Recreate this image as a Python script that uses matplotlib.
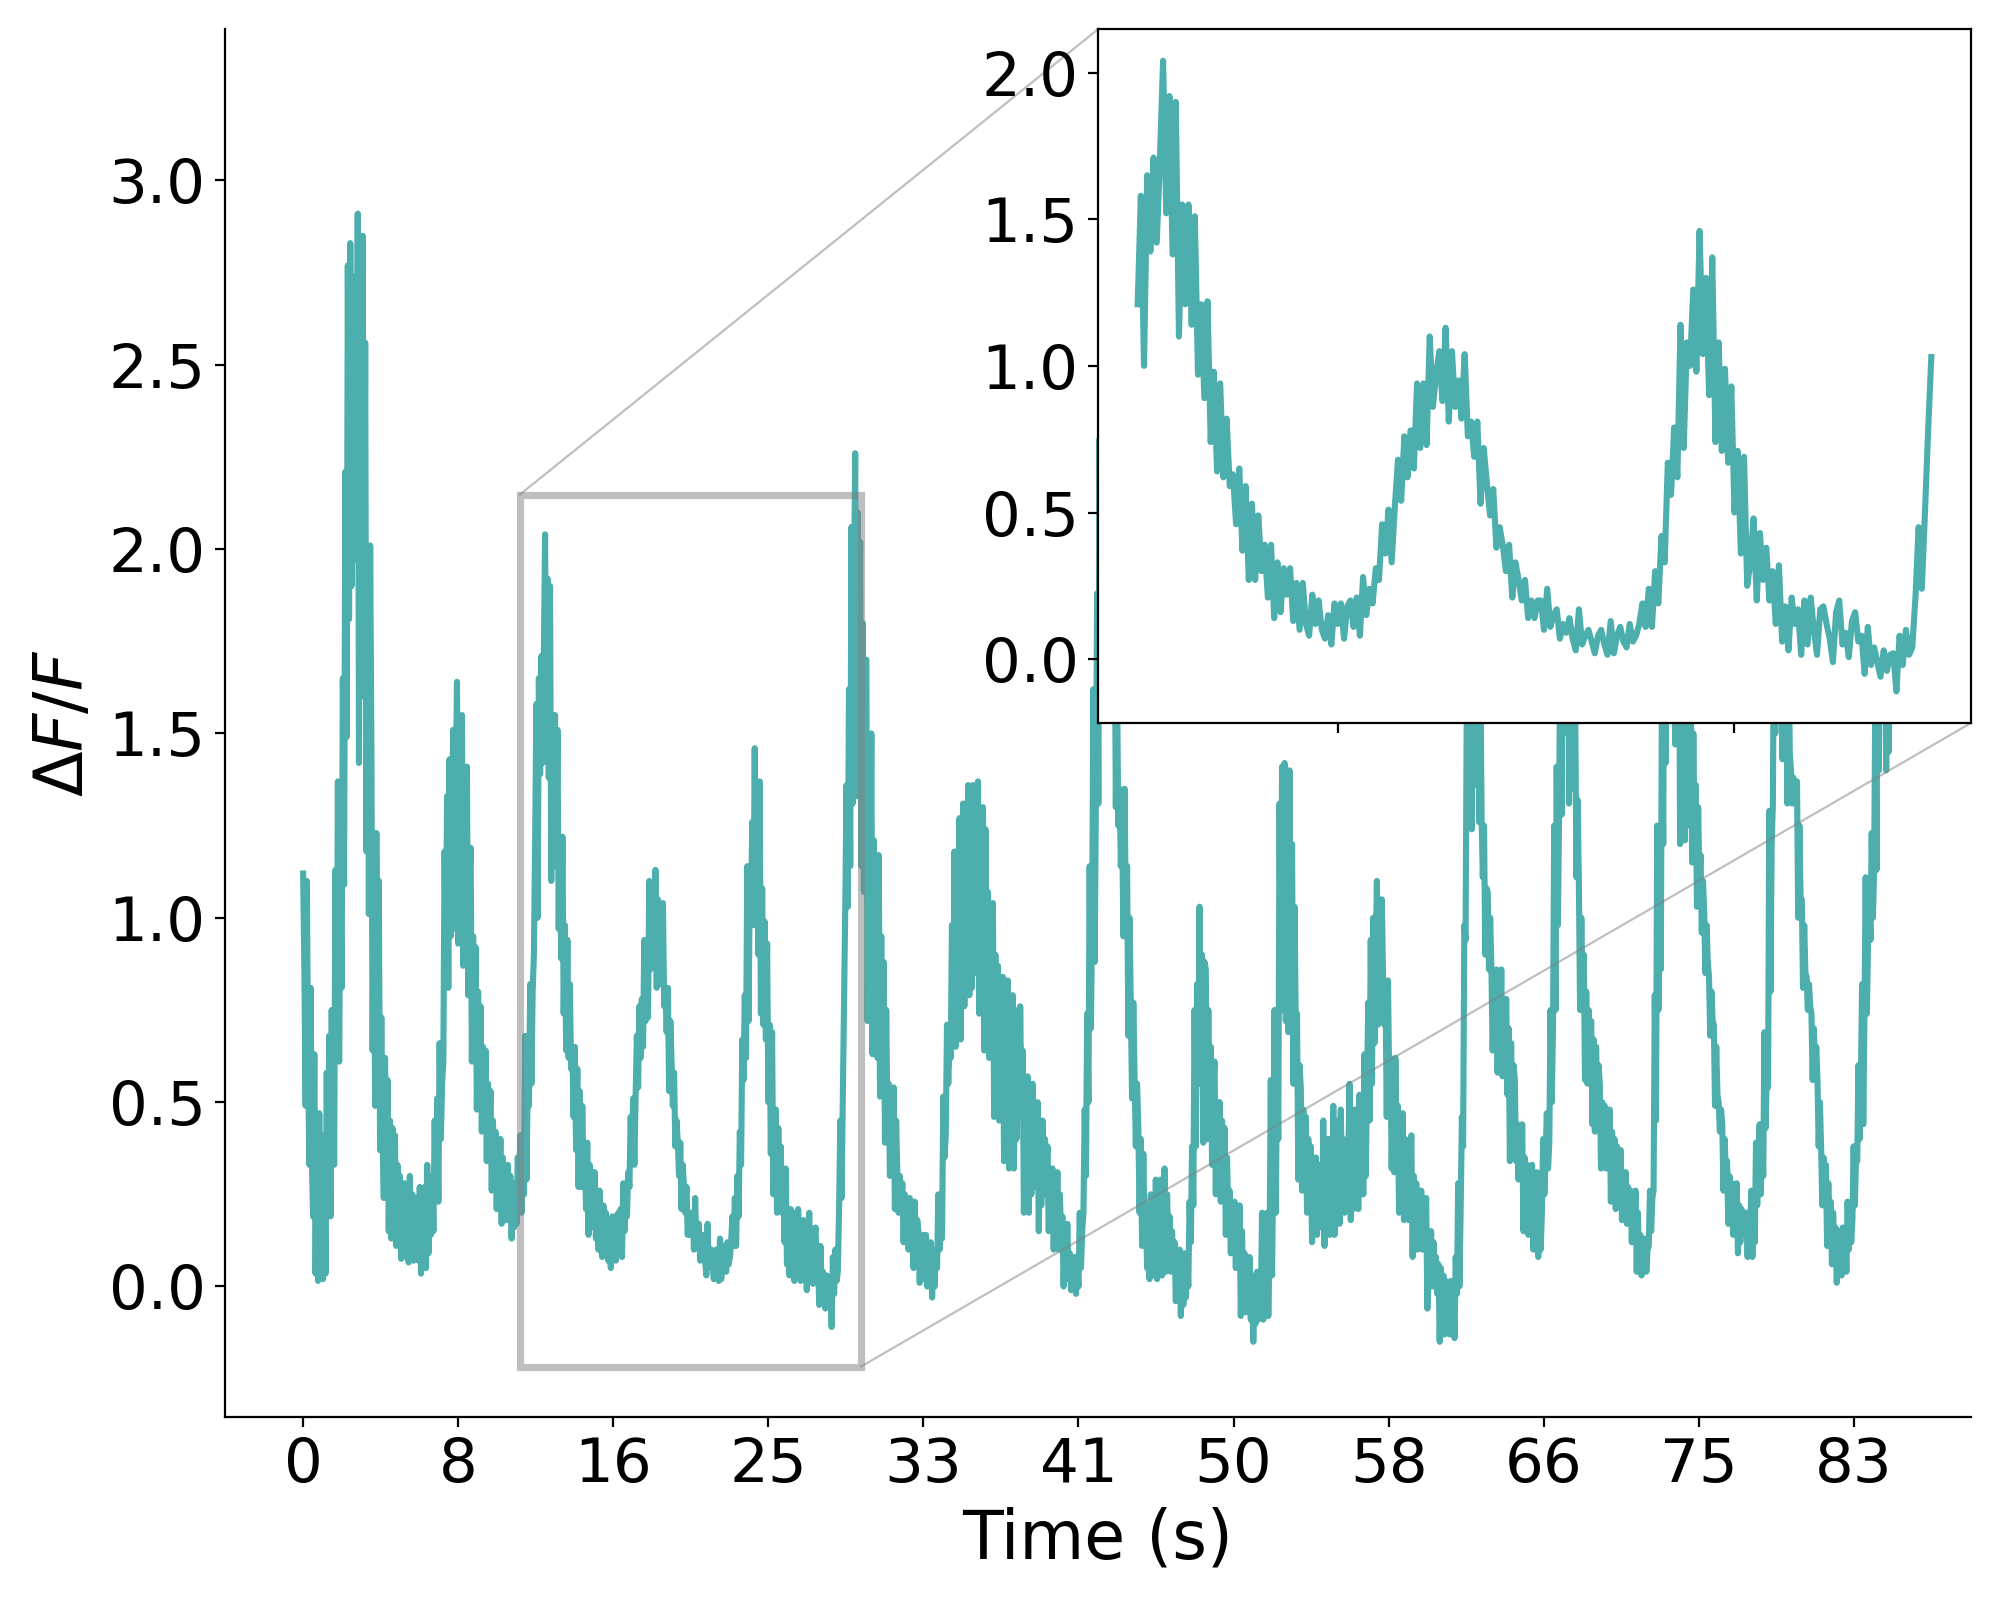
import numpy as np
import matplotlib
matplotlib.use("Agg")
import matplotlib.pyplot as plt

# ---------------- data (ΔF/F trace, ~15 samples per second) ----------------
# segment boundaries in seconds (start of each segment, last = end of recording)
seg_bounds = [0.0, 12.467, 29.2, 42.8, 57.24, 71.6, 85.33]

seg_a = [
    1.12, 0.85, 0.49, 1.10, 0.60, 0.33, 0.81, 0.35, 0.19, 0.63,
    0.035, 0.40, 0.015, 0.47, 0.10, 0.30, 0.02, 0.41, 0.035, 0.58,
    0.20, 0.68, 0.19, 0.75, 0.45, 0.33, 1.13, 0.62, 1.37, 0.61,
    1.10, 0.81, 1.65, 1.09, 2.21, 1.49, 2.77, 1.81, 2.83, 1.90,
    2.60, 1.97, 2.74, 2.00, 2.91, 1.42, 2.50, 1.80, 2.85, 1.60,
    2.56, 1.18, 2.00, 1.01, 2.01, 1.47, 0.64, 1.20, 0.49, 1.23,
    0.70, 1.10, 0.37, 0.73, 0.40, 0.24, 0.62, 0.30, 0.56, 0.15,
    0.45, 0.13, 0.43, 0.20, 0.41, 0.11, 0.33, 0.15, 0.30, 0.075,
    0.25, 0.12, 0.28, 0.08, 0.22, 0.065, 0.30, 0.10, 0.25, 0.07,
    0.24, 0.12, 0.20, 0.07, 0.27, 0.035, 0.20, 0.10, 0.27, 0.05,
    0.33, 0.09, 0.25, 0.14, 0.30, 0.15, 0.45, 0.25, 0.51, 0.23,
    0.66, 0.40, 0.55, 0.61, 1.18, 0.85, 1.33, 0.81, 1.43, 0.95,
    1.30, 1.51, 0.97, 1.35, 1.64, 0.93, 1.45, 1.00, 1.55, 0.87,
    1.30, 0.95, 1.41, 0.79, 1.10, 1.19, 0.61, 0.95, 0.70, 0.92,
    0.48, 0.80, 0.55, 0.76, 0.42, 0.65, 0.45, 0.64, 0.34, 0.55,
    0.40, 0.53, 0.26, 0.45, 0.30, 0.42, 0.21, 0.35, 0.25, 0.40,
    0.17, 0.35, 0.22, 0.30, 0.18, 0.33, 0.20, 0.30, 0.13, 0.25,
    0.16, 0.28, 0.17, 0.35, 0.22, 0.41, 0.20, 0.30, 0.25, 0.68,
    0.29, 0.55, 0.49, 0.82, 0.55, 0.80, 0.90,
]

# zoomed segment (shown in the inset)
seg_b = [
    1.21, 1.58, 1.00, 1.65, 1.39, 1.71, 1.42, 1.70, 2.04, 1.52,
    1.92, 1.38, 1.90, 1.10, 1.55, 1.21, 1.55, 1.14, 1.51, 0.97,
    1.21, 0.89, 1.22, 0.74, 0.98, 0.64, 0.94, 0.62, 0.82, 0.59,
    0.63, 0.46, 0.65, 0.37, 0.59, 0.27, 0.53, 0.27, 0.49, 0.30,
    0.39, 0.21, 0.39, 0.14, 0.33, 0.16, 0.31, 0.22, 0.31, 0.13,
    0.26, 0.10, 0.26, 0.12, 0.08, 0.22, 0.12, 0.20, 0.10, 0.07,
    0.15, 0.05, 0.19, 0.12, 0.19, 0.07, 0.18, 0.20, 0.11, 0.21,
    0.08, 0.28, 0.15, 0.24, 0.19, 0.31, 0.27, 0.46, 0.36, 0.51,
    0.33, 0.52, 0.68, 0.54, 0.76, 0.62, 0.78, 0.65, 0.94, 0.72,
    0.94, 0.73, 1.10, 0.86, 0.97, 1.05, 0.88, 1.13, 0.81, 1.05,
    0.86, 0.95, 0.82, 1.04, 0.76, 0.81, 0.69, 0.81, 0.53, 0.72,
    0.60, 0.49, 0.58, 0.38, 0.45, 0.39, 0.30, 0.39, 0.21, 0.33,
    0.27, 0.20, 0.27, 0.14, 0.20, 0.14, 0.20, 0.20, 0.10, 0.24,
    0.11, 0.15, 0.17, 0.07, 0.12, 0.09, 0.14, 0.07, 0.03, 0.17,
    0.05, 0.08, 0.10, 0.06, 0.02, 0.08, 0.10, 0.05, 0.015, 0.13,
    0.02, 0.08, 0.11, 0.06, 0.04, 0.12, 0.06, 0.08, 0.12, 0.19,
    0.11, 0.24, 0.11, 0.30, 0.19, 0.42, 0.33, 0.67, 0.56, 0.79,
    0.62, 1.14, 0.72, 1.08, 1.00, 1.26, 0.98, 1.46, 1.04, 1.30,
    0.90, 1.37, 0.74, 1.08, 0.71, 0.99, 0.67, 0.93, 0.50, 0.71,
    0.36, 0.69, 0.25, 0.33, 0.48, 0.20, 0.43, 0.27, 0.38, 0.20,
    0.30, 0.12, 0.32, 0.06, 0.18, 0.03, 0.21, 0.12, 0.17, 0.015,
    0.20, 0.05, 0.21, 0.10, 0.015, 0.17, 0.18, 0.12, 0.07, -0.01,
    0.16, 0.20, 0.05, 0.09, 0.007, 0.13, 0.16, 0.06, 0.08, -0.05,
    0.11, -0.02, 0.04, -0.01, -0.06, 0.03, -0.04, 0.015, 0.02, -0.11,
    0.08, -0.02, 0.10, 0.015, 0.04, 0.21, 0.45, 0.24, 0.50, 0.78,
    1.03,
]

seg_c = [
    1.36, 1.03, 1.62, 1.14, 2.06, 1.31, 1.87, 2.26,
    1.33, 2.10, 1.50, 2.02, 1.14, 1.80, 1.07, 1.69,
    1.70, 0.72, 1.40, 0.90, 1.50, 0.63, 1.21, 0.70,
    1.17, 0.62, 1.17, 0.515, 0.95, 0.60, 0.88, 0.39,
    0.75, 0.45, 0.55, 0.30, 0.50, 0.35, 0.54, 0.21,
    0.45, 0.30, 0.20, 0.30, 0.22, 0.28, 0.12, 0.25,
    0.15, 0.22, 0.10, 0.24, 0.12, 0.20, 0.05, 0.23,
    0.08, 0.18, 0.15, 0.01, 0.12, 0.04, 0.14, 0.02,
    0.14, 0.00, 0.10, 0.03, 0.12, -0.03, 0.08, 0.00, 0.10,
    0.05, 0.25, 0.10, 0.20, 0.13, 0.515, 0.35,
    0.41, 0.71, 0.55, 0.65, 0.62, 0.98, 0.70,
    1.18, 0.65, 1.05, 0.75, 1.27, 0.67, 1.10,
    1.31, 0.76, 1.20, 0.85, 1.36, 0.79, 1.25,
    0.81, 1.36, 0.95, 1.30, 0.85,
    1.37, 0.74, 1.20, 0.80, 1.30, 0.64, 1.24, 0.75,
    1.07, 0.62, 0.95, 0.70, 1.04, 0.46, 0.90, 0.55,
    0.87, 0.45, 0.80, 0.55, 0.84, 0.34, 0.75, 0.45,
    0.83, 0.32, 0.70, 0.40, 0.79, 0.32, 0.65, 0.40, 0.75,
    0.46, 0.76, 0.50, 0.64, 0.20, 0.55, 0.30,
    0.57, 0.20, 0.45, 0.25, 0.55, 0.27, 0.48, 0.32,
    0.50, 0.15, 0.40, 0.22, 0.45, 0.25, 0.40, 0.28,
    0.38, 0.15, 0.32, 0.20, 0.32, 0.10, 0.28, 0.15,
    0.31, 0.10, 0.25, 0.13, 0.19, 0.00, 0.15, 0.05, 0.17, 0.02,
    0.09, -0.01, 0.07, 0.00, 0.08, -0.02, 0.06, 0.00,
    0.20, 0.05, 0.15, 0.20, 0.48, 0.30, 0.74, 0.50,
    1.14, 0.70, 1.00, 1.62, 0.88, 1.30, 1.88, 1.31,
]

seg_d = [
    2.30, 1.60, 2.80, 2.10, 3.24, 2.30, 2.90, 2.00, 2.60, 1.80, 2.30, 1.60,
    1.90, 1.30, 1.62, 1.25,
    1.35, 1.14, 1.30, 0.95, 1.35, 1.00,
    1.14, 0.68, 1.00, 0.75, 0.51, 0.77,
    0.57, 0.38, 0.55, 0.43, 0.20, 0.40,
    0.11, 0.36, 0.15, 0.22, 0.05, 0.20,
    0.02, 0.25, 0.05, 0.22, 0.03,
    0.29, 0.02, 0.25, 0.06, 0.29, 0.03, 0.20,
    0.32, 0.04, 0.25, 0.10, 0.19, 0.04, 0.15, 0.05,
    0.12, -0.04, 0.08, 0.00, 0.10, -0.08, 0.05, -0.05,
    0.09, -0.03, 0.06, 0.00, 0.23, 0.12, 0.38, 0.22,
    0.75, 0.38, 0.82, 0.55, 1.03, 0.55, 0.90,
    0.39, 0.88, 0.86, 0.40, 0.75, 0.50,
    0.65, 0.33, 0.55, 0.61, 0.25, 0.50, 0.30,
    0.50, 0.23, 0.45, 0.28, 0.43, 0.14, 0.35, 0.18,
    0.26, 0.09, 0.22, 0.12, 0.23, 0.05, 0.20, 0.08,
    0.22, -0.08, 0.15, -0.02, 0.09, -0.07, 0.05, -0.03,
    0.08, -0.09, 0.03, -0.15, 0.03, -0.10,
    0.04, -0.09, 0.02, -0.05, 0.20, -0.09, 0.12,
    -0.05, 0.20, -0.08, 0.10, 0.56, 0.03, 0.35,
    0.75, 0.20, 0.60, 0.40, 1.31,
    0.75, 1.41, 0.90, 1.42, 0.72, 1.30,
    0.69, 1.40, 0.80, 1.20, 0.55, 1.03, 0.70,
    0.74, 0.29, 0.60, 0.54, 0.26, 0.48, 0.30,
    0.46, 0.20, 0.40, 0.25, 0.38, 0.12, 0.33, 0.18, 0.35,
    0.14, 0.33, 0.18, 0.30, 0.16, 0.45, 0.11, 0.35, 0.20,
    0.40, 0.14, 0.35, 0.18, 0.49, 0.14, 0.40, 0.20, 0.45,
    0.17, 0.48, 0.25, 0.40, 0.20, 0.38, 0.22, 0.35,
    0.55, 0.18, 0.45, 0.21, 0.48, 0.25, 0.42,
    0.21, 0.52, 0.25, 0.45, 0.25, 0.63, 0.30, 0.55,
]

seg_e = [
    0.77, 0.45, 0.94, 0.55, 1.00, 0.66, 0.90, 1.10, 0.71, 1.00,
    0.75, 1.05, 0.84, 0.71, 0.80, 0.46, 0.83, 0.55, 0.62, 0.32,
    0.55, 0.31, 0.62, 0.40, 0.49, 0.20, 0.45, 0.25, 0.47, 0.18,
    0.40, 0.22, 0.39, 0.18, 0.35, 0.41, 0.08, 0.30, 0.15, 0.28,
    0.10, 0.25, 0.12, 0.26, 0.10, 0.22, 0.13, 0.24, -0.06, 0.15,
    0.00, 0.15, 0.00, 0.12, 0.03, 0.08, -0.02, 0.06, -0.15, 0.05,
    -0.10, 0.03, -0.13, 0.015, -0.08, 0.00, -0.13, 0.015, -0.05, 0.01,
    -0.14, 0.08, -0.02, 0.28, 0.00, 0.20, 0.46, 0.38, 0.98, 0.94,
    1.60, 2.00, 1.35, 2.30, 1.24, 2.10, 1.36, 2.20, 1.70, 2.00,
    1.26, 1.70, 1.28, 1.11, 1.25, 0.90, 1.08, 1.07, 0.86, 1.00,
    0.86, 0.64, 0.80, 0.66, 0.86, 0.58, 0.80, 0.62, 0.86, 0.57,
    0.78, 0.60, 0.78, 0.52, 0.70, 0.34, 0.66, 0.40, 0.60, 0.56,
    0.34, 0.44, 0.29, 0.42, 0.30, 0.44, 0.15, 0.35, 0.20, 0.33,
    0.14, 0.28, 0.16, 0.33, 0.10, 0.25, 0.13, 0.31, 0.08, 0.25,
    0.10, 0.20, 0.40, 0.25, 0.35, 0.47, 0.32, 0.39, 0.75, 0.50,
    0.70, 1.25, 0.75, 1.41, 0.98, 1.30, 1.80, 1.28, 2.00, 1.50,
    2.30, 1.60, 2.10, 1.31, 1.90, 1.55, 1.70, 1.35, 1.60, 1.11,
    1.32, 1.10, 0.75, 1.00, 0.80, 0.90, 0.56, 0.80, 0.55, 0.75,
    0.58, 0.72, 0.44, 0.67, 0.42, 0.65, 0.48, 0.60, 0.55, 0.32,
    0.50, 0.36, 0.49, 0.32, 0.45, 0.35, 0.48, 0.23, 0.42, 0.28,
    0.40, 0.21, 0.38, 0.25, 0.33, 0.37, 0.18, 0.30, 0.20, 0.31,
    0.17, 0.27, 0.19, 0.26, 0.12, 0.22, 0.14,
]

seg_f = [
    0.26, 0.04, 0.20, 0.06,
    0.14, 0.03, 0.12, 0.05, 0.13, 0.04, 0.10,
    0.11, 0.26, 0.15, 0.24,
    0.26, 0.79, 0.45,
    1.25, 0.75, 1.10,
    0.86, 1.70, 1.20,
    2.00, 1.42, 2.30, 1.70,
    2.50, 1.90, 2.60, 2.00, 2.40,
    1.47, 2.20, 1.60, 2.00,
    1.20, 1.90, 1.35, 1.70,
    1.21, 1.75, 1.30, 1.60, 1.25,
    1.55, 1.15, 1.50, 1.20,
    1.36, 1.03, 1.30, 1.10,
    1.17, 0.96, 1.10,
    1.02, 0.85, 0.98, 0.88,
    0.84, 0.68, 0.80, 0.72,
    0.71, 0.49, 0.65, 0.52,
    0.50, 0.42, 0.48,
    0.44, 0.26, 0.40, 0.30,
    0.34, 0.17, 0.30, 0.20,
    0.28, 0.14, 0.25, 0.16,
    0.28, 0.09, 0.22, 0.12,
    0.21, 0.14, 0.20, 0.15,
    0.20, 0.08, 0.18, 0.10,
    0.26, 0.08, 0.22, 0.12,
    0.39, 0.22, 0.35,
    0.44, 0.25, 0.40, 0.30,
    0.69, 0.43, 0.60,
    0.54, 1.29, 0.80, 1.20,
    1.31, 1.90, 1.50, 2.10,
    1.60, 2.40, 1.80, 2.60, 1.43, 2.20, 1.70,
    2.00, 1.31, 1.80, 1.45,
    1.40, 1.31, 1.38, 1.32, 1.36,
    1.37, 1.00, 1.25, 1.05,
    1.05, 0.81, 0.98, 0.85,
    0.84, 0.75, 0.82, 0.76,
    0.74, 0.56, 0.70, 0.60, 0.65,
    0.56, 0.38, 0.50,
    0.38, 0.22, 0.35, 0.26,
    0.33, 0.11, 0.28, 0.15,
    0.23, 0.06, 0.20, 0.09,
    0.16, 0.01, 0.13, 0.03, 0.15,
    0.03, 0.16, 0.05, 0.14, 0.04,
    0.23, 0.10, 0.20, 0.12,
    0.18, 0.38, 0.22, 0.35,
    0.34, 0.60, 0.40, 0.55,
    0.82, 0.44, 0.74,
    1.11, 0.74, 0.94, 1.05,
    0.94, 1.23, 1.00, 1.13,
    1.60, 1.13, 1.90, 1.40,
    2.20, 1.70, 2.00, 1.65, 1.90,
    1.40, 1.75, 1.45, 1.70,
]

tick_times = [0.0, 8.333, 16.667, 25.0, 33.333, 41.667, 50.0, 58.333, 66.667, 75.0, 83.333]
tick_labels = ["0", "8", "16", "25", "33", "41", "50", "58", "66", "75", "83"]

x_label = "Time (s)"
y_label = r"$\Delta F/F$"
trace_color = "#4daeae"

# ---------------- build time axis ----------------
segments = [seg_a, seg_b, seg_c, seg_d, seg_e, seg_f]
time_parts = []
for k, seg in enumerate(segments):
    t0, t1 = seg_bounds[k], seg_bounds[k + 1]
    n = len(seg)
    time_parts.append(t0 + (t1 - t0) * np.arange(n) / n)
t_all = np.concatenate(time_parts)
dff_all = np.concatenate([np.asarray(s, dtype=float) for s in segments])
t_zoom = time_parts[1]
dff_zoom = np.asarray(seg_b, dtype=float)

# ---------------- figure ----------------
fig = plt.figure(figsize=(10, 8), dpi=200)
ax = fig.add_axes([0.1125, 0.1146, 0.873, 0.8671])
ax.plot(t_all, dff_all, color=trace_color, lw=2.2)
ax.set_xlim(-4.2, 89.63)
ax.set_ylim(-0.353, 3.41)
ax.set_xticks(tick_times, tick_labels)
ax.spines["top"].set_visible(False)
ax.spines["right"].set_visible(False)
ax.tick_params(labelsize=22)
ax.set_xlabel(x_label, fontsize=24)
ax.set_ylabel(y_label, fontsize=24)

axins = ax.inset_axes([0.5, 0.5, 0.5, 0.5])
axins.plot(t_zoom, dff_zoom, color=trace_color, lw=2.2)
axins.set_xticks([tk for tk in tick_times if t_zoom[0] <= tk <= t_zoom[-1]])
axins.tick_params(labelbottom=False, labelsize=22)

ind = ax.indicate_inset_zoom(axins, edgecolor="0.5", alpha=0.5, linewidth=2.6)
try:
    conns = ind.connectors
    # order: lower-left, upper-left, lower-right, upper-right
    for c, vis in zip(conns, [False, True, True, False]):
        c.set_linewidth(0.8)
        c.set_visible(vis)
except Exception:
    pass

fig.savefig("out.png", dpi=200)
